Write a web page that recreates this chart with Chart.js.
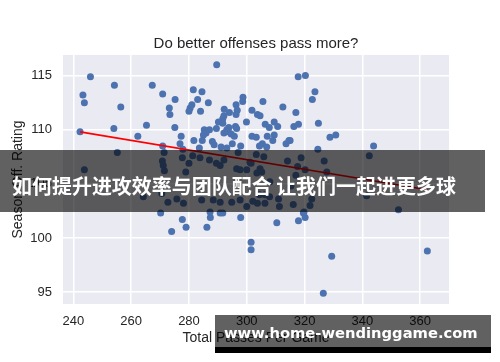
<!DOCTYPE html>
<html>
<head>
<meta charset="utf-8">
<script src="https://cdn.jsdelivr.net/npm/chart.js@4.4.0/dist/chart.umd.min.js"></script>
<style>
  html, body { margin: 0; padding: 0; background: #ffffff; }
  #wrap { position: relative; width: 500px; height: 362px; overflow: hidden; }
  #c { position: absolute; left: 0; top: 0; }
  #banner {
    position: absolute; left: 0; top: 150px; width: 485px; height: 62px;
    background: rgba(0,0,0,0.62);
  }
  #bannerText {
    position: absolute; left: 12px; top: 0; height: 62px;
    color: #ffffff; font-family: "Noto Sans CJK SC", sans-serif; font-weight: 700;
    font-size: 20px; line-height: 71px; white-space: nowrap;
  }
  #wm {
    position: absolute; left: 215px; top: 315px; width: 276px; height: 32px;
    background: rgba(0,0,0,0.62);
  }
  #wmBar { position: absolute; left: 215px; top: 347px; width: 276px; height: 6px; background: #000; }
  #wmText {
    position: absolute; left: 9px; top: 0; height: 32px; line-height: 36px;
    color: #fff; font-family: "DejaVu Sans", sans-serif; font-weight: 700; font-size: 15px;
    white-space: nowrap;
  }
</style>
</head>
<body>
<div id="wrap">
  <canvas id="c" width="500" height="362"></canvas>
  <div id="banner"><div id="bannerText">如何提升进攻效率与团队配合 让我们一起进更多球</div></div>
  <div id="wm"><div id="wmText">www.home-wendinggame.com</div></div>
  <div id="wmBar"></div>
</div>
<script>
// ---- data ----
const passX = [
  245.9,243.3,243.8,242.3,254.2,256.4,254.0,267.3,270.9,275.2,273.2,273.4,265.3,275.1,262.3,277.3,
  270.9,276.9,255.2,271.4,277.9,270.8,271.1,271.5,243.8,278.9,277.7,264.2,272.7,275.8,270.2,277.7,
  274.0,279.0,278.1,270.6,
  281.5,284.5,283.0,286.7,281.0,280.4,280.0,284.0,289.6,292.2,294.0,292.1,291.7,296.3,296.7,296.3,
  298.7,298.6,299.9,290.2,291.7,293.8,293.1,292.1,293.6,294.6,296.1,296.5,289.5,287.1,285.3,285.9,
  285.0,281.7,284.6,288.1,288.7,291.1,293.1,283.6,297.9,295.0,297.0,295.7,281.3,283.8,287.1,289.5,
  290.8,292.1,296.5,297.7,280.0,284.4,288.4,290.8,294.8,297.7,287.3,290.8,287.4,286.2,291.7,297.9,
  300.0,301.1,301.8,300.0,301.5,301.5,310.4,317.9,320.2,319.6,329.4,326.5,362.5,317.8,320.3,323.6,
  322.7,305.6,312.5,301.8,303.7,304.6,317.0,324.8,316.3,317.9,306.4,307.8,309.5,310.7,303.3,307.1,
  309.5,309.0,305.4,304.4,306.9,314.6,313.6,328.8,330.8,324.6,303.3,305.9,314.1,318.8,326.8,301.5,
  304.6,303.5,305.2,317.6,320.2,317.0,327.7,308.0,315.3,304.4,306.3,311.0,307.9,302.1,303.7,306.3,
  316.1,311.3,322.5,321.9,319.8,343.9,342.4,341.5,352.5,315.0
];
const offRating = [
  114.9,113.2,112.5,109.8,114.1,112.1,110.1,114.1,113.3,112.8,112.0,111.4,110.4,110.2,109.4,109.4,
  108.5,108.7,107.9,107.9,108.2,107.1,106.7,106.2,106.3,106.1,107.4,103.8,103.3,103.6,102.3,101.7,
  100.6,101.0,103.2,104.1,
  113.7,113.5,112.8,112.5,112.3,112.0,111.7,111.7,116.0,111.9,111.6,111.3,111.0,112.3,111.8,111.4,
  113.0,112.6,110.7,110.7,110.6,110.2,110.0,109.7,109.8,109.6,110.3,110.1,110.1,110.0,110.0,109.7,
  109.5,109.0,109.0,108.9,108.6,108.4,108.3,108.3,108.5,108.7,107.9,109.4,107.6,107.4,107.2,106.9,
  106.7,107.2,106.4,106.3,106.9,103.5,103.5,103.3,103.3,103.5,102.4,102.3,101.9,101.0,102.3,101.9,
  106.3,107.0,109.4,102.9,99.6,98.9,101.4,101.6,101.9,102.3,98.3,94.9,98.8,114.9,115.0,113.5,
  112.8,112.6,112.1,111.8,111.4,111.3,111.6,110.6,110.3,110.5,110.5,110.2,110.7,110.3,109.3,109.4,
  109.5,109.0,108.7,108.5,108.4,109.0,108.7,109.3,109.5,108.2,107.7,107.5,107.1,107.4,107.1,106.9,
  106.4,106.0,106.1,106.6,106.3,105.8,106.1,105.2,104.8,104.0,104.0,103.6,103.8,103.4,103.2,103.2,
  103.1,102.9,103.6,103.0,102.4,108.5,107.6,103.9,102.6,109.0
];
// regression line end points
const fitX = [242.3, 362.5];
const fitY = [109.8, 104.45];
// tick labels
const xTicks = [240, 260, 280, 300, 320, 340, 360];
const yTicks = [95, 100, 105, 110, 115];

const chartTitle = "Do better offenses pass more?";
const xTitle = "Total Passes Per Game";
const yTitle = "Season Off. Rating";

const scatterPts = passX.map((x, i) => ({x: x, y: offRating[i]}));
const linePts = fitX.map((x, i) => ({x: x, y: fitY[i]}));

const bgPlugin = {
  id: 'plotBg',
  beforeDraw(chart) {
    const {ctx, chartArea: a} = chart;
    ctx.save();
    ctx.fillStyle = '#EAEAF2';
    ctx.fillRect(a.left, a.top, a.right - a.left, a.bottom - a.top);
    ctx.restore();
  }
};

const txt = '#262626';
const fam = '"Liberation Sans", Arial, sans-serif';

new Chart(document.getElementById('c'), {
  type: 'scatter',
  data: {
    datasets: [
      {
        type: 'line', data: linePts, borderColor: '#ff0000', borderWidth: 1.6,
        pointRadius: 0, fill: false, order: 0
      },
      {
        data: scatterPts, backgroundColor: '#4C72B0', borderWidth: 0,
        pointRadius: 3.5, order: 1
      }
    ]
  },
  options: {
    responsive: false,
    animation: false,
    events: [],
    layout: { padding: { left: 0, right: 51, top: 0, bottom: 0 } },
    plugins: {
      legend: { display: false },
      tooltip: { enabled: false },
      title: {
        display: true, text: chartTitle, fullSize: false, color: txt,
        font: { family: fam, size: 15, weight: 'normal', lineHeight: 1.2 },
        padding: { top: 35, bottom: 2 }
      }
    },
    scales: {
      x: {
        type: 'linear', min: 236.4, max: 370,
        afterBuildTicks: (s) => { s.ticks = xTicks.map(v => ({value: v})); },
        afterFit: (s) => { s.height = 58; },
        grid: { color: '#ffffff', lineWidth: 1.5, drawTicks: false },
        border: { display: false },
        ticks: { color: txt, padding: 10, font: { family: fam, size: 13 }, maxRotation: 0 },
        title: { display: true, text: xTitle, color: txt,
                 font: { family: fam, size: 14, lineHeight: 1.2 }, padding: { top: 0, bottom: 15.6 } }
      },
      y: {
        type: 'linear', min: 93.9, max: 116.9,
        afterBuildTicks: (s) => { s.ticks = yTicks.map(v => ({value: v})); },
        afterFit: (s) => { s.width = 63; },
        grid: { color: '#ffffff', lineWidth: 1.5, drawTicks: false },
        border: { display: false },
        ticks: { color: txt, padding: 11, font: { family: fam, size: 13 } },
        title: { display: true, text: yTitle, color: txt,
                 font: { family: fam, size: 14, lineHeight: 1.2 }, padding: { top: 10, bottom: 0 } }
      }
    }
  },
  plugins: [bgPlugin]
});

// fit overlay texts to their measured widths
function fitWidth(el, target) {
  const w = el.getBoundingClientRect().width;
  const fs = parseFloat(getComputedStyle(el).fontSize);
  el.style.fontSize = (fs * target / w) + 'px';
}
fitWidth(document.getElementById('wmText'), 254);
fitWidth(document.getElementById('bannerText'), 444);
</script>
</body>
</html>
